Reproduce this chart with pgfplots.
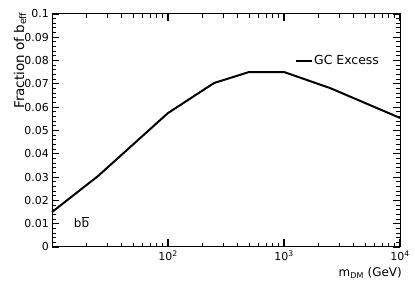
\documentclass[border=0pt]{standalone}
\usepackage{pgfplots}
\pgfplotsset{compat=1.18}
\usepackage{fontspec}
\setmainfont{DejaVu Sans}
\begin{document}
\begin{tikzpicture}
\begin{axis}[
  scale only axis, width=348bp, height=233bp,
  xmode=log, xmin=10, xmax=10000, ymin=0, ymax=0.1,
  xtick pos=both, ytick pos=both,
  xtick={100,1000,10000},
  xticklabels={10\textsuperscript{2},10\textsuperscript{3},10\textsuperscript{4}},
  minor xtick={20,30,40,50,60,70,80,90,200,300,400,500,600,700,800,900,2000,3000,4000,5000,6000,7000,8000,9000},
  ytick={0,0.01,0.02,0.03,0.04,0.05,0.06,0.07,0.08,0.09,0.1},
  yticklabels={0,0.01,0.02,0.03,0.04,0.05,0.06,0.07,0.08,0.09,0.1},
  minor ytick={0.002,0.004,0.006,0.008,0.012,0.014,0.016,0.018,0.022,0.024,0.026,0.028,0.032,0.034,0.036,0.038,0.042,0.044,0.046,0.048,0.052,0.054,0.056,0.058,0.062,0.064,0.066,0.068,0.072,0.074,0.076,0.078,0.082,0.084,0.086,0.088,0.092,0.094,0.096,0.098},
  tick align=inside,
  major tick style={draw=black, line width=1.1bp},
  minor tick style={draw=black, line width=1bp},
  major tick length=7.5bp, minor tick length=4bp,
  axis line style={line width=1bp},
  /pgf/number format/assume math mode=true,
  xticklabel style={font=\fontsize{11}{12}\selectfont, inner sep=0pt, anchor=north, yshift=-4bp},
  yticklabel style={font=\fontsize{11}{12}\selectfont, inner sep=0pt, anchor=east, xshift=-3bp},
  clip=false,
  legend style={at={(rel axis cs:0.698,0.798)}, anchor=west, draw=none, fill=none, inner sep=0pt,
    font=\fontsize{12.5}{14}\selectfont, nodes={inner sep=1bp}},
  legend cell align=left,
  legend image code/.code={\draw[line width=2bp] (0bp,0bp) -- (16bp,0bp);},
]
\addplot[black, line width=2bp] coordinates {
  (10,0.0150) (25,0.0305) (100,0.0575) (250,0.0704) (500,0.0751) (1000,0.0751) (2500,0.0682) (10000,0.0554)
};
\addlegendentry{GC Excess}
\node[font=\fontsize{12}{14}\selectfont, inner sep=0pt] at (rel axis cs:0.085,0.107) {b$\overline{\mbox{b}}$};
\node[font=\fontsize{13.5}{15}\selectfont, rotate=90, anchor=base east, inner sep=0pt] at ([xshift=-28bp,yshift=2bp]rel axis cs:0,1) {Fraction of b\textsubscript{eff}};
\node[font=\fontsize{12}{14}\selectfont, anchor=base east, inner sep=0pt] at ([xshift=2bp,yshift=-30bp]rel axis cs:1,0) {m\textsubscript{DM} (GeV)};
\end{axis}
\pgfresetboundingbox
\path ([xshift=-52bp,yshift=-37bp]current axis.south west) rectangle ([xshift=15bp,yshift=14bp]current axis.north east);
\end{tikzpicture}
\end{document}
